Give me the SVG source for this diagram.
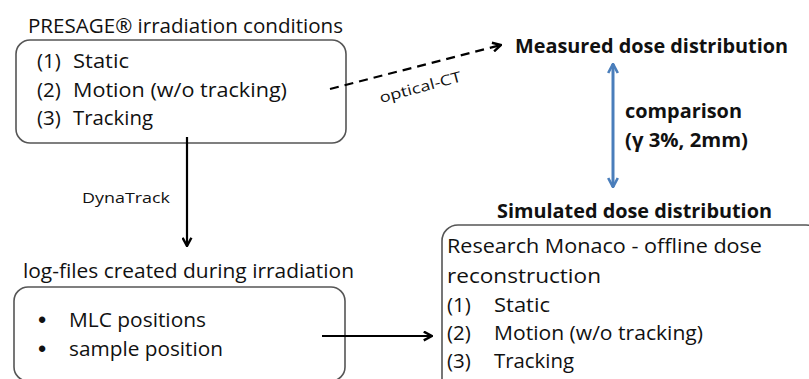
<svg xmlns="http://www.w3.org/2000/svg" width="809" height="379" viewBox="0 0 809 379">
<defs>
<style>
.t{font-family:"Open Sans","Liberation Sans",sans-serif;fill:#111;}
.n{font-size:20.5px;}
.b{font-size:20px;font-weight:bold;}
.s{font-size:14.5px;}
.box{fill:#fff;stroke:#555;stroke-width:1.6;}
.ln{fill:none;stroke:#000;stroke-width:2.2;}
.bul{font-family:"Liberation Sans",sans-serif;font-size:22px;font-weight:bold;fill:#111;text-anchor:middle;}
</style>
<marker id="ah" viewBox="0 0 10 10" refX="9" refY="5" markerWidth="5" markerHeight="5" orient="auto" markerUnits="strokeWidth">
<path d="M1.5,1 L9,5 L1.5,9" fill="none" stroke="#000" stroke-width="2.2"/>
</marker>
<marker id="bh" viewBox="0 0 10 10" refX="9" refY="5" markerWidth="4" markerHeight="4" orient="auto-start-reverse" markerUnits="strokeWidth">
<path d="M1.5,1 L9,5 L1.5,9" fill="none" stroke="#4a7ebb" stroke-width="2.2"/>
</marker>
</defs>
<rect width="809" height="379" fill="#fff"/>

<g id="conditions">
<text class="t n" x="28" y="33" textLength="315" lengthAdjust="spacingAndGlyphs">PRESAGE® irradiation conditions</text>
<rect class="box" x="16" y="40" width="330" height="103" rx="14"/>
<text class="t n" x="37" y="68">(1)</text><text class="t n" x="73" y="68" textLength="56" lengthAdjust="spacingAndGlyphs">Static</text>
<text class="t n" x="37" y="97">(2)</text><text class="t n" x="73" y="97" textLength="214" lengthAdjust="spacingAndGlyphs">Motion (w/o tracking)</text>
<text class="t n" x="37" y="125">(3)</text><text class="t n" x="73" y="125" textLength="80" lengthAdjust="spacingAndGlyphs">Tracking</text>
</g>

<g id="logfiles">
<text class="t n" x="23" y="278" textLength="331" lengthAdjust="spacingAndGlyphs">log-files created during irradiation</text>
<rect class="box" x="14" y="287" width="331" height="94" rx="14"/>
<text class="bul" x="42" y="327">•</text><text class="t n" x="69" y="327" textLength="137" lengthAdjust="spacingAndGlyphs">MLC positions</text>
<text class="bul" x="42" y="356">•</text><text class="t n" x="69" y="356" textLength="154" lengthAdjust="spacingAndGlyphs">sample position</text>
</g>

<g id="measured">
<text class="t b" x="515" y="53" textLength="273" lengthAdjust="spacingAndGlyphs">Measured dose distribution</text>
</g>

<g id="simulated">
<text class="t b" x="497" y="218" textLength="275" lengthAdjust="spacingAndGlyphs">Simulated dose distribution</text>
<rect class="box" x="442" y="225" width="380" height="170" rx="16"/>
<text class="t n" x="447" y="253" textLength="315" lengthAdjust="spacingAndGlyphs">Research Monaco - offline dose</text>
<text class="t n" x="447" y="283" textLength="154" lengthAdjust="spacingAndGlyphs">reconstruction</text>
<text class="t n" x="447" y="312">(1)</text><text class="t n" x="494" y="312" textLength="56" lengthAdjust="spacingAndGlyphs">Static</text>
<text class="t n" x="447" y="340">(2)</text><text class="t n" x="494" y="340" textLength="209" lengthAdjust="spacingAndGlyphs">Motion (w/o tracking)</text>
<text class="t n" x="447" y="368">(3)</text><text class="t n" x="494" y="368" textLength="80" lengthAdjust="spacingAndGlyphs">Tracking</text>
</g>

<g id="connectors">
<line class="ln" x1="330" y1="89" x2="501" y2="45" stroke-dasharray="9,6" marker-end="url(#ah)"/>
<text class="t s" transform="translate(381,103) rotate(-15)" textLength="84" lengthAdjust="spacingAndGlyphs">optical-CT</text>
<line class="ln" x1="187" y1="137" x2="187" y2="246" marker-end="url(#ah)"/>
<text class="t s" x="82" y="203" font-size="15.5" textLength="88" lengthAdjust="spacingAndGlyphs">DynaTrack</text>
<line class="ln" x1="322" y1="336" x2="432" y2="336" marker-end="url(#ah)"/>
<line x1="613" y1="64" x2="613" y2="187" stroke="#4a7ebb" stroke-width="3" marker-start="url(#bh)" marker-end="url(#bh)"/>
<text class="t b" x="625" y="118" textLength="117" lengthAdjust="spacingAndGlyphs">comparison</text>
<text class="t b" x="625" y="147" textLength="123" lengthAdjust="spacingAndGlyphs">(γ 3%, 2mm)</text>
</g>
</svg>
